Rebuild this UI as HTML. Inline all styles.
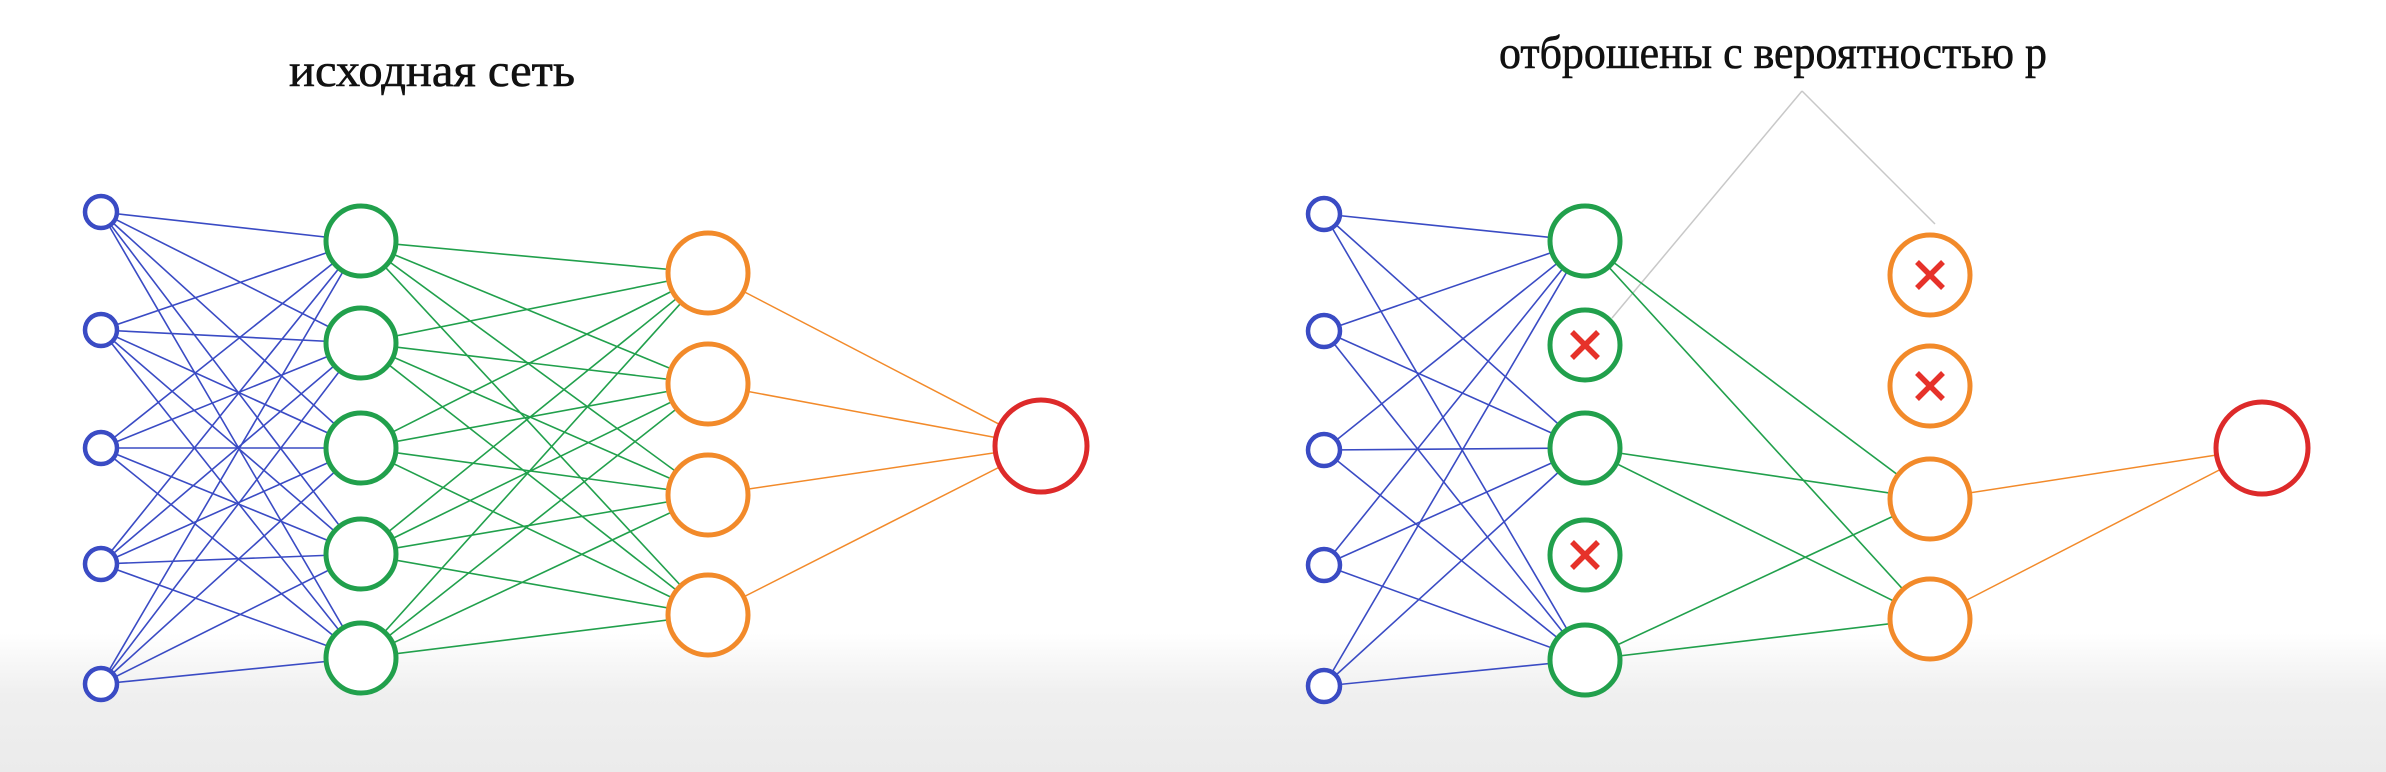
<!DOCTYPE html>
<html><head><meta charset="utf-8">
<style>
html,body{margin:0;padding:0;width:2386px;height:772px;overflow:hidden;background:#fff}
svg{display:block}
text{font-family:"Liberation Serif","DejaVu Serif",serif;fill:#111;stroke:#111;stroke-width:0.6}
</style></head>
<body>
<svg id="s" width="2386" height="772" viewBox="0 0 2386 772" xmlns="http://www.w3.org/2000/svg">
<defs>
<linearGradient id="bg" x1="0" y1="0" x2="0" y2="1">
<stop offset="0" stop-color="#ffffff"/>
<stop offset="0.82" stop-color="#ffffff"/>
<stop offset="0.9" stop-color="#efefef"/>
<stop offset="1" stop-color="#ebebeb"/>
</linearGradient>
</defs>
<rect width="2386" height="772" fill="url(#bg)"/>
<text x="289" y="86" font-size="47" textLength="286" lengthAdjust="spacingAndGlyphs">исходная сеть</text>
<text x="1499" y="68" font-size="47" textLength="548" lengthAdjust="spacingAndGlyphs">отброшены с вероятностью p</text>
<g id="lines"></g>
<g id="nodes"></g>
</svg>
<script>
var NS="http://www.w3.org/2000/svg";
var L=document.getElementById('lines'),N=document.getElementById('nodes');
function line(x1,y1,x2,y2,c,w){var e=document.createElementNS(NS,'line');e.setAttribute('x1',x1);e.setAttribute('y1',y1);e.setAttribute('x2',x2);e.setAttribute('y2',y2);e.setAttribute('stroke',c);e.setAttribute('stroke-width',w||1.6);L.appendChild(e);}
function circ(x,y,r,c,w){var e=document.createElementNS(NS,'ellipse');e.setAttribute('cx',x);e.setAttribute('cy',y);e.setAttribute('rx',r);e.setAttribute('ry',r);e.setAttribute('fill','#fff');e.setAttribute('stroke',c);e.setAttribute('stroke-width',w);N.appendChild(e);}
function cross(x,y){var d=13;[[x-d,y-d,x+d,y+d],[x-d,y+d,x+d,y-d]].forEach(function(a){var e=document.createElementNS(NS,'line');e.setAttribute('x1',a[0]);e.setAttribute('y1',a[1]);e.setAttribute('x2',a[2]);e.setAttribute('y2',a[3]);e.setAttribute('stroke','#e6322a');e.setAttribute('stroke-width',5.5);N.appendChild(e);});}
var B='#3a4bc4',G='#21a04c',O='#f28a2a',R='#dd2a2a';
function net(bx,by,gx,gy,ox,oy,rx,ry,gk,ok){
  by.forEach(function(b){gy.forEach(function(g,i){if(gk.indexOf(i)>=0)line(bx,b,gx,g,B,1.6);});});
  gy.forEach(function(g,i){if(gk.indexOf(i)<0)return;oy.forEach(function(o,j){if(ok.indexOf(j)>=0)line(gx,g,ox,o,G,1.6);});});
  oy.forEach(function(o,j){if(ok.indexOf(j)>=0)line(ox,o,rx,ry,O,1.5);});
  by.forEach(function(b){circ(bx,b,16,B,4.5);});
  gy.forEach(function(g,i){circ(gx,g,35,G,5);if(gk.indexOf(i)<0)cross(gx,g);});
  oy.forEach(function(o,j){circ(ox,o,40,O,5);if(ok.indexOf(j)<0)cross(ox,o);});
  circ(rx,ry,46,R,5);
}
line(1802,91,1612,318,'#c8c8c8',1.5);line(1802,91,1935,224,'#c8c8c8',1.5);
net(101,[212,330,448,564,684],361,[241,343,448,554,658],708,[273,384,495,615],1041,446,[0,1,2,3,4],[0,1,2,3]);
net(1324,[214,331,450,565,686],1585,[241,345,448,555,660],1930,[275,386,499,619],2262,448,[0,2,4],[2,3]);
</script>
</body></html>
